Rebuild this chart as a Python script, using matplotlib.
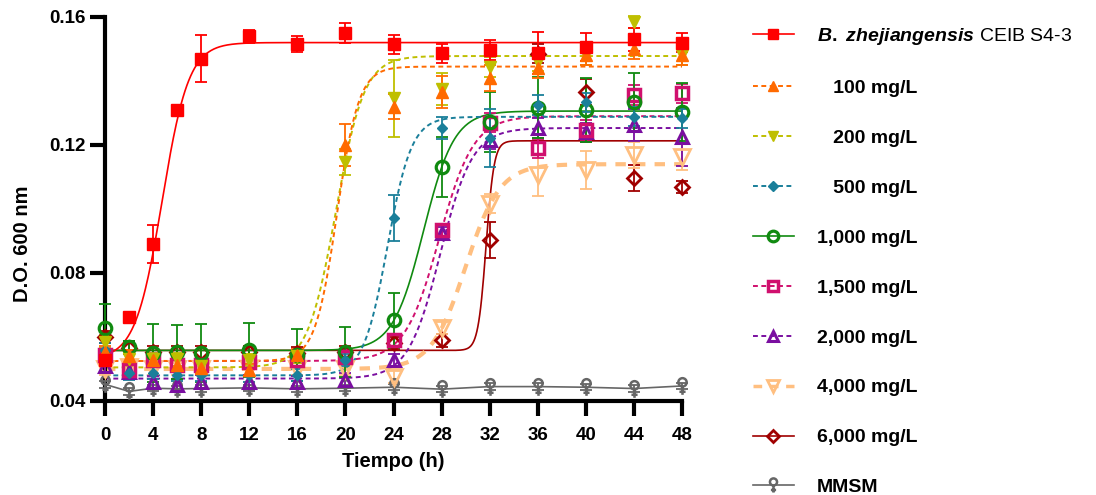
import numpy as np
import matplotlib
matplotlib.use("Agg")
import matplotlib.pyplot as plt
from matplotlib.lines import Line2D
from matplotlib.path import Path

plt.rcParams['font.family'] = ['Liberation Sans', 'DejaVu Sans']
plt.rcParams['font.weight'] = 'bold'
plt.rcParams['mathtext.fontset'] = 'custom'
plt.rcParams['mathtext.it'] = 'Liberation Sans:italic'
plt.rcParams['mathtext.rm'] = 'Liberation Sans'

# ---- datos (D.O. 600 nm) ----
tiempo = [0, 2, 4, 6, 8, 12, 16, 20, 24, 28, 32, 36, 40, 44, 48]

od_ctrl = [0.0528, 0.0663, 0.0890, 0.1310, 0.1470, 0.1540, 0.1516, 0.1550, 0.1515, 0.1487, 0.1497, 0.1487, 0.1506, 0.1530, 0.1520]
err_ctrl = [0.002, 0.001, 0.006, 0.001, 0.0073, 0.002, 0.0025, 0.003, 0.003, 0.003, 0.003, 0.0066, 0.0045, 0.0035, 0.003]

od_100 = [0.0553, 0.0540, 0.0528, 0.0513, 0.0503, 0.0497, 0.0544, 0.1200, 0.1320, 0.1366, 0.1410, 0.1440, 0.1480, 0.1500, 0.1480]
err_100 = [0.002, 0.002, 0.002, 0.002, 0.002, 0.002, 0.002, 0.0065, 0.004, 0.005, 0.004, 0.003, 0.003, 0.003, 0.003]

od_200 = [0.0585, 0.0530, 0.0530, 0.0530, 0.0510, 0.0528, 0.0540, 0.1147, 0.1346, 0.1375, 0.1444, 0.1460, 0.1480, 0.1584, 0.1480]
err_200 = [0.002, 0.002, 0.002, 0.002, 0.002, 0.002, 0.002, 0.004, 0.012, 0.005, 0.003, 0.003, 0.003, 0.002, 0.003]

od_500 = [0.0560, 0.0487, 0.0488, 0.0482, 0.0482, 0.0480, 0.0481, 0.0528, 0.0972, 0.1253, 0.1222, 0.1325, 0.1334, 0.1288, 0.1284]
err_500 = [0.002, 0.002, 0.002, 0.002, 0.002, 0.002, 0.002, 0.002, 0.0073, 0.0035, 0.009, 0.003, 0.003, 0.003, 0.003]

od_1000 = [0.0628, 0.0569, 0.0550, 0.0553, 0.0550, 0.0560, 0.0544, 0.0553, 0.0653, 0.1131, 0.1272, 0.1316, 0.1309, 0.1334, 0.1303]
err_1000 = [0.0075, 0.002, 0.009, 0.0085, 0.009, 0.0084, 0.008, 0.0078, 0.0086, 0.0095, 0.0095, 0.0095, 0.010, 0.009, 0.009]

od_1500 = [0.0544, 0.0497, 0.0528, 0.0513, 0.0513, 0.0522, 0.0528, 0.0538, 0.0590, 0.0934, 0.1270, 0.1190, 0.1247, 0.1356, 0.1362]
err_1500 = [0.002, 0.002, 0.002, 0.002, 0.002, 0.002, 0.002, 0.002, 0.002, 0.002, 0.003, 0.003, 0.003, 0.003, 0.003]

od_2000 = [0.0510, 0.0490, 0.0459, 0.0450, 0.0460, 0.0460, 0.0459, 0.0466, 0.0528, 0.0925, 0.1216, 0.1253, 0.1240, 0.1262, 0.1225]
err_2000 = [0.002, 0.002, 0.002, 0.002, 0.002, 0.002, 0.002, 0.002, 0.002, 0.002, 0.003, 0.003, 0.003, 0.005, 0.009]

od_4000 = [0.0500, 0.0505, 0.0500, 0.0500, 0.0500, 0.0500, 0.0500, 0.0500, 0.0475, 0.0628, 0.1016, 0.1106, 0.1122, 0.1169, 0.1162]
err_4000 = [0.002, 0.002, 0.002, 0.002, 0.002, 0.002, 0.002, 0.002, 0.002, 0.002, 0.003, 0.0065, 0.006, 0.004, 0.004]

od_6000 = [0.0600, 0.0566, 0.0553, 0.0553, 0.0553, 0.0553, 0.0550, 0.0553, 0.0580, 0.0590, 0.0903, 0.1485, 0.1366, 0.1097, 0.1069]
err_6000 = [0.002, 0.002, 0.002, 0.002, 0.002, 0.002, 0.002, 0.002, 0.002, 0.002, 0.0055, 0.003, 0.004, 0.004, 0.002]

od_mmsm = [0.0452, 0.0430, 0.0440, 0.0438, 0.0439, 0.0441, 0.0438, 0.0440, 0.0443, 0.0437, 0.0445, 0.0445, 0.0443, 0.0439, 0.0447]
err_mmsm = [0.001, 0.001, 0.001, 0.001, 0.001, 0.001, 0.001, 0.001, 0.001, 0.001, 0.001, 0.001, 0.001, 0.001, 0.001]

# parametros del ajuste sigmoidal (fondo, tope, t50, pendiente)
fit_bottom = [0.0530, 0.0525, 0.0505, 0.0480, 0.0558, 0.0525, 0.0470, 0.0500, 0.0558]
fit_top = [0.1520, 0.1445, 0.1478, 0.1288, 0.1306, 0.1290, 0.1253, 0.1140, 0.1213]
fit_t50 = [4.75, 19.3, 19.2, 23.5, 26.5, 27.8, 27.9, 30.0, 31.7]
fit_k = [0.9, 1.1, 0.85, 1.0, 0.785, 0.7, 0.75, 0.7, 3.0]

etiquetas = [r'$\mathit{B.\ zhejiangensis}$ CEIB S4-3', '   100 mg/L', '   200 mg/L', '   500 mg/L',
             '1,000 mg/L', '1,500 mg/L', '2,000 mg/L', '4,000 mg/L', '6,000 mg/L', 'MMSM']

# marcador tipo ♀ para MMSM
_circ = Path.circle((0, 0.3), 0.3)
_stem = Path([(0, 0), (0, -0.6)], [Path.MOVETO, Path.LINETO])
_bar = Path([(-0.22, -0.38), (0.22, -0.38)], [Path.MOVETO, Path.LINETO])
venus = Path.make_compound_path(_circ, _stem, _bar)

# estilos: color, marcador, relleno, tamaño, grosor borde, estilo de línea, grosor línea
estilos = [
    ('#ff0000', 's', 'full', 9, 1.0, '-', 1.2),
    ('#ff6a00', '^', 'full', 8, 1.0, (0, (2.5, 1.8)), 1.4),
    ('#bfbf00', 'v', 'full', 8, 1.0, (0, (2.5, 1.8)), 1.4),
    ('#1a7f9a', 'D', 'full', 5.5, 1.0, (0, (2.5, 1.8)), 1.4),
    ('#108a10', 'o', 'none', 9, 2.3, '-', 1.2),
    ('#d0106e', 's', 'none', 9, 2.5, (0, (2.5, 1.8)), 1.4),
    ('#7a0fa0', '^', 'none', 9, 2.2, (0, (2.5, 1.8)), 1.4),
    ('#ffbf80', 'v', 'none', 11, 2.0, (0, (2.5, 2.2)), 3.0),
    ('#a00000', 'D', 'none', 7.5, 2.0, '-', 1.2),
    ('#666666', venus, 'none', 12, 1.8, '-', 1.2),
]

series = [od_ctrl, od_100, od_200, od_500, od_1000, od_1500, od_2000, od_4000, od_6000, od_mmsm]
errores = [err_ctrl, err_100, err_200, err_500, err_1000, err_1500, err_2000, err_4000, err_6000, err_mmsm]

fig = plt.figure(figsize=(10.96, 4.95), dpi=100)
ax = fig.add_axes([0.0958, 0.1899, 0.5265, 0.7758])

tt = np.linspace(0, 48, 600)
handles = []
for i in range(len(series)):
    col, mk, fill, ms, mew, ls, lw = estilos[i]
    z = (9 - i) * 0.05   # la primera serie queda encima
    if i < 9:
        # curva ajustada
        yy = fit_bottom[i] + (fit_top[i] - fit_bottom[i]) / (1 + np.exp(-(tt - fit_t50[i]) * fit_k[i]))
        ax.plot(tt, yy, color=col, ls=ls, lw=lw, zorder=2 + z)
    else:
        ax.plot(tiempo, series[i], color=col, ls=ls, lw=lw, zorder=2 + z)
    mfc = col if fill == 'full' else 'none'
    cont = ax.errorbar(tiempo, series[i], yerr=errores[i], fmt='none', ecolor=col,
                       elinewidth=1.3, capsize=4.5, capthick=1.3, zorder=3 + z)
    for ch in cont.get_children():
        ch.set_clip_on(False)
    ax.plot(tiempo, series[i], ls='none', marker=mk, ms=ms, mfc=mfc,
            mec=col, mew=mew, zorder=4 + z, clip_on=False)
    handles.append(Line2D([], [], color=col, ls=ls, lw=lw if i != 7 else 2.5, marker=mk,
                          ms=ms * 0.85, mfc=mfc, mec=col, mew=mew))

ax.set_xlim(0, 48)
ax.set_ylim(0.04, 0.16)
ax.set_xticks(range(0, 49, 4))
ax.set_yticks([0.04, 0.08, 0.12, 0.16])
ax.set_yticklabels(['0.04', '0.08', '0.12', '0.16'])
for s in ['top', 'right']:
    ax.spines[s].set_visible(False)
for s in ['left', 'bottom']:
    ax.spines[s].set_linewidth(3)
ax.tick_params(axis='both', width=3, length=11, labelsize=13.5)
ax.tick_params(axis='x', pad=8)
ax.tick_params(axis='y', pad=3)

ax.set_ylabel('D.O. 600 nm', fontsize=14.5, fontweight='bold')
ax.set_xlabel('Tiempo (h)', fontsize=14.5, fontweight='bold', va='top')
ax.yaxis.set_label_coords(-0.1265, 0.409)
ax.xaxis.set_label_coords(0.5, -0.133)

leg = fig.legend(handles, etiquetas, loc='upper left', bbox_to_anchor=(0.687, 0.947),
                 frameon=False, fontsize=14, handlelength=2.1, handletextpad=1.2,
                 labelspacing=1.66, borderpad=0, borderaxespad=0)
leg.get_texts()[0].set_fontweight('normal')

fig.savefig('out.png', dpi=100)
